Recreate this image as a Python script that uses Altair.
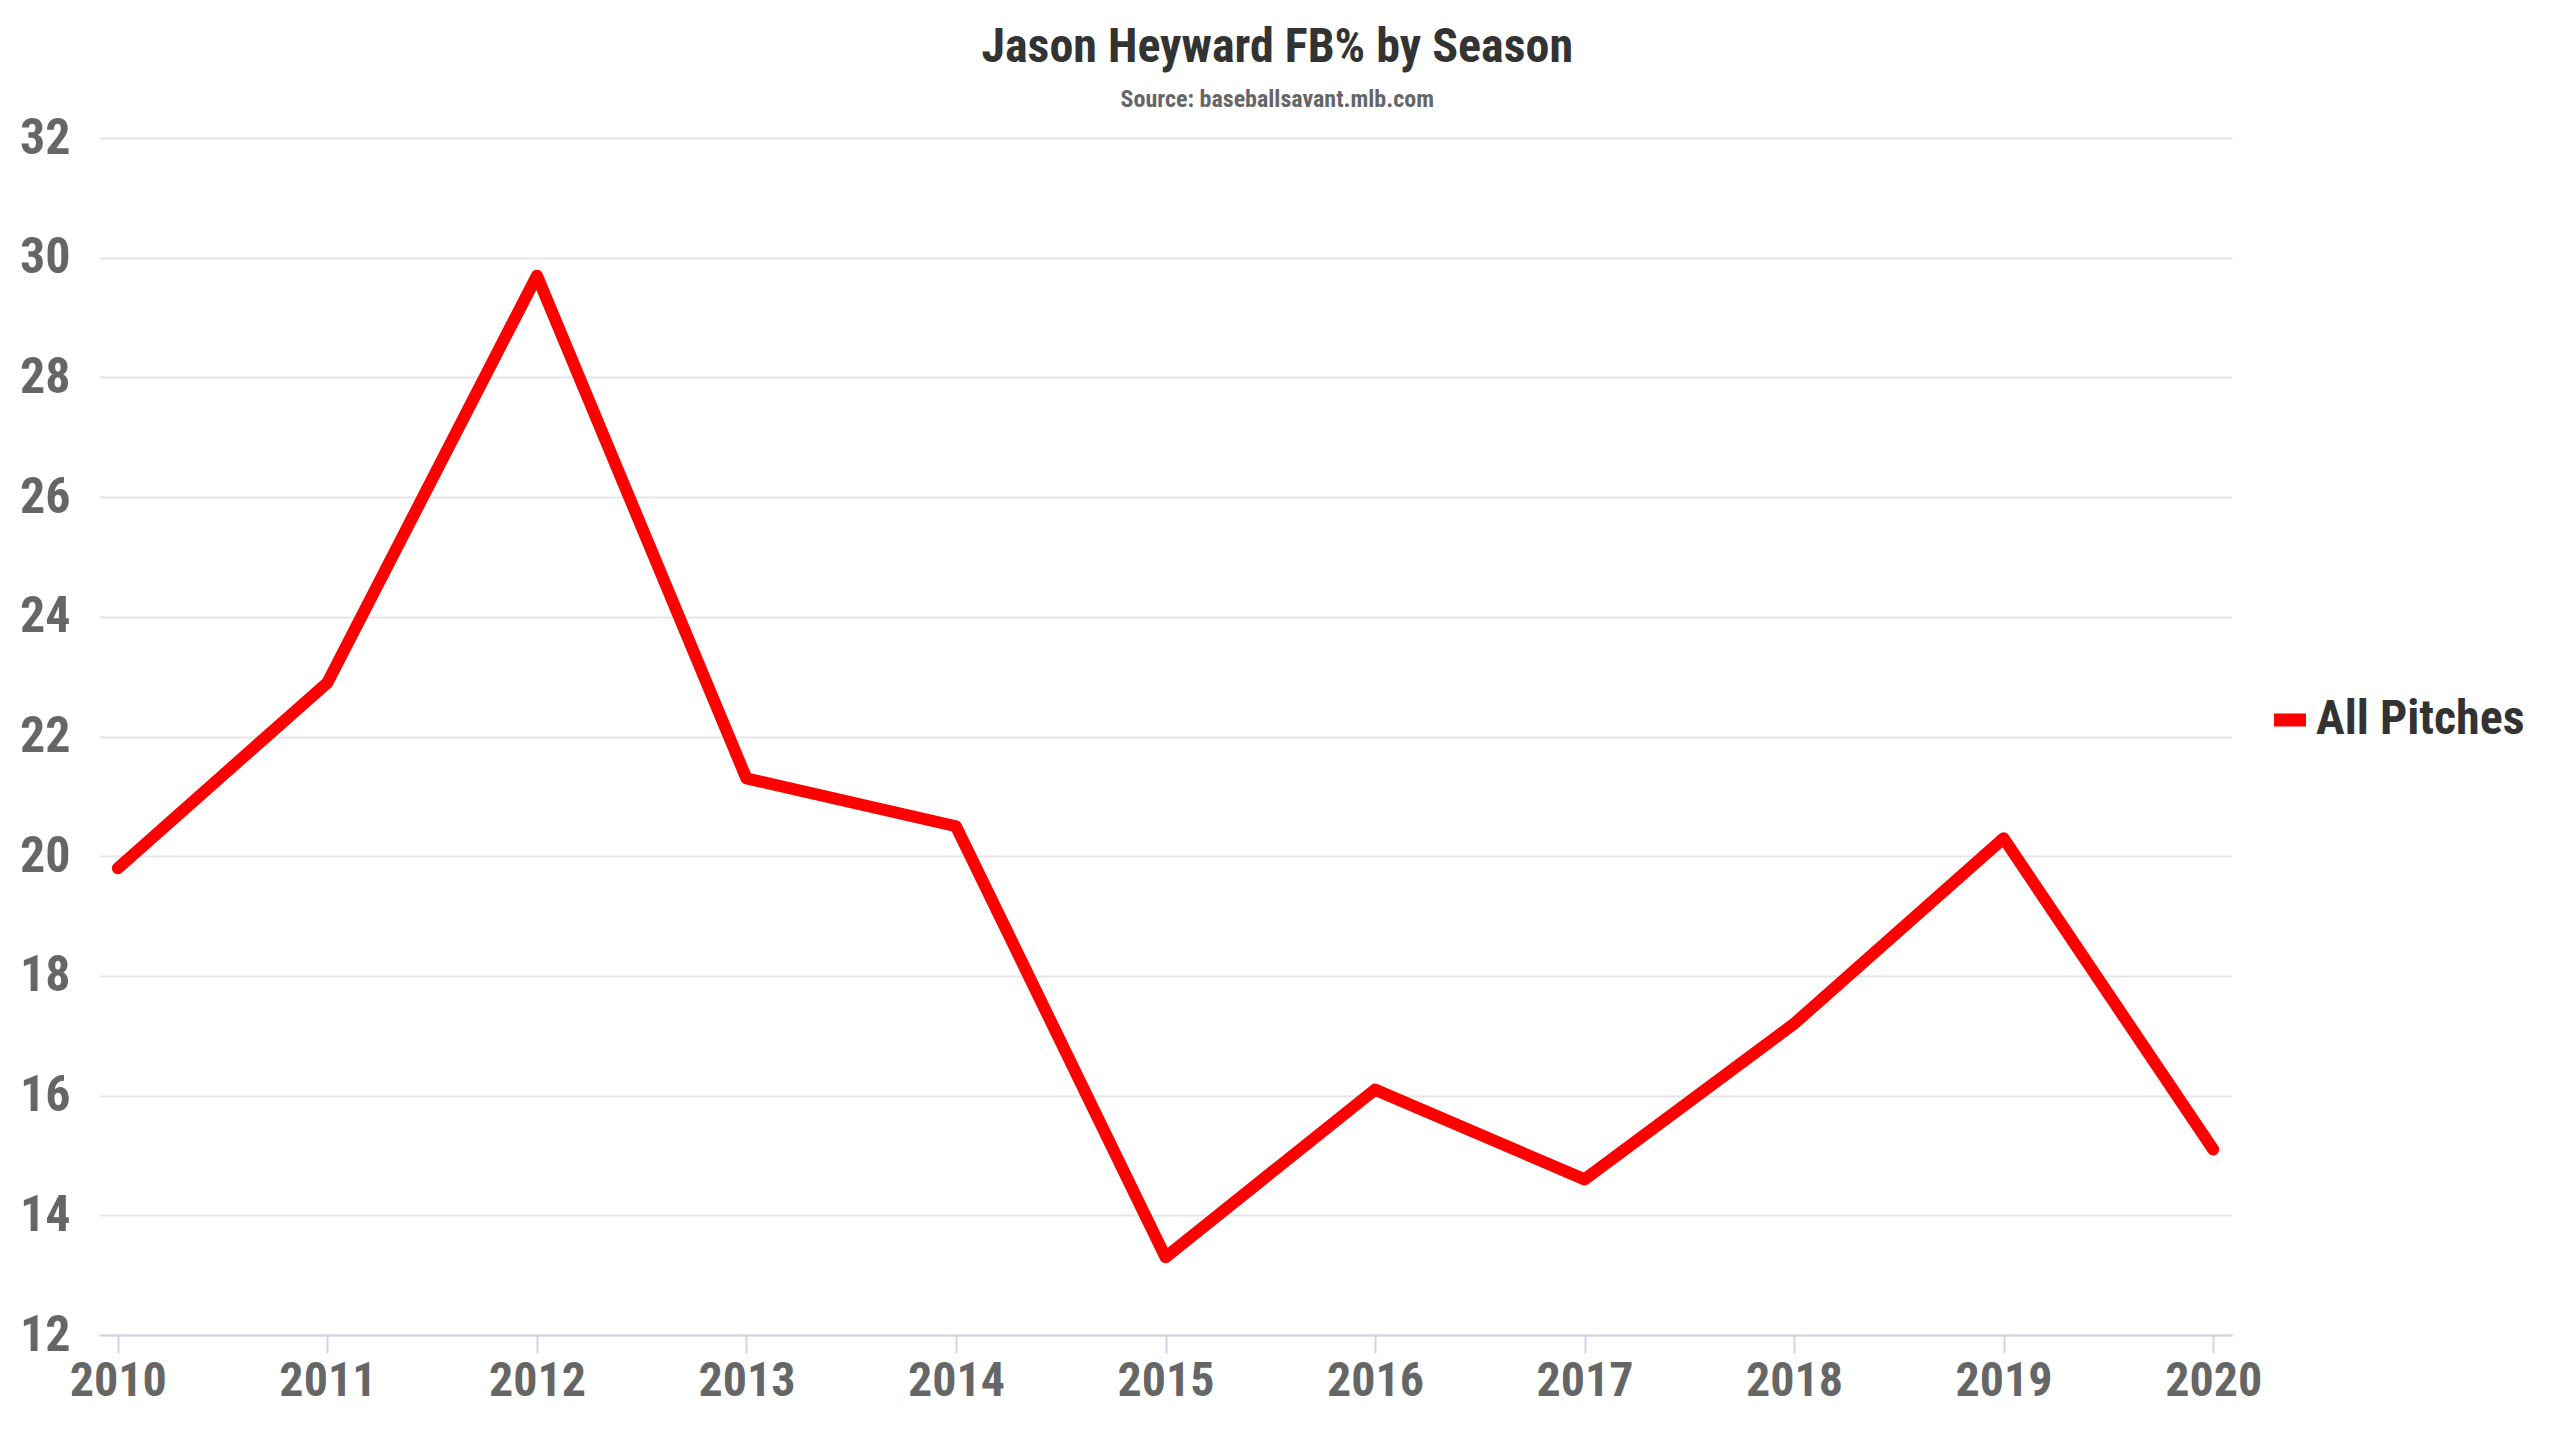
import altair as alt
import pandas as pd

years = [2010, 2011, 2012, 2013, 2014, 2015, 2016, 2017, 2018, 2019, 2020]
fb_pct = [19.8, 22.9, 29.7, 21.3, 20.5, 13.3, 16.1, 14.6, 17.2, 20.3, 15.1]
series = ["All Pitches"] * len(years)
y_ticks = [12, 14, 16, 18, 20, 22, 24, 26, 28, 30, 32]

df = pd.DataFrame({"Season": years, "FB%": fb_pct, "Series": series})

FONT = "'Roboto Condensed', 'Liberation Sans Narrow', 'DejaVu Sans Condensed', Roboto, sans-serif"

chart = (
    alt.Chart(df)
    .mark_line(strokeWidth=12, strokeCap="round", strokeJoin="round")
    .encode(
        x=alt.X(
            "Season:Q",
            scale=alt.Scale(domain=[2009.91, 2020.09], nice=False, zero=False),
            axis=alt.Axis(
                values=years, format="d", title=None, grid=False,
                domainColor="#ccd6eb", domainWidth=2, tickColor="#ccd6eb", tickWidth=2,
                tickSize=18, labelFontSize=48, labelFontWeight="bold", labelColor="#666666",
                labelFont=FONT, labelPadding=4,
            ),
        ),
        y=alt.Y(
            "FB%:Q",
            scale=alt.Scale(domain=[12, 32], nice=False, zero=False),
            axis=alt.Axis(
                values=y_ticks, title=None, domain=False, ticks=False,
                gridColor="#e6e6e6", gridWidth=2, labelFontSize=50,
                labelFontWeight="bold", labelColor="#666666", labelFont=FONT,
                labelPadding=29,
            ),
        ),
        color=alt.Color(
            "Series:N",
            scale=alt.Scale(domain=["All Pitches"], range=["#ff0000"]),
            legend=alt.Legend(
                title=None, orient="none", legendX=2167, legendY=558,
                symbolType="stroke", symbolStrokeWidth=13, symbolSize=1024,
                labelFontSize=48, labelFontWeight="bold", labelColor="#333333",
                labelFont=FONT, labelOffset=2, labelLimit=0,
            ),
        ),
    )
    .properties(
        width=2133,
        height=1197,
        padding={"left": 91, "top": 130, "right": 300, "bottom": 85},
        autosize=alt.AutoSizeParams(type="none"),
        title=alt.TitleParams(
            text="Jason Heyward FB% by Season",
            subtitle="Source: baseballsavant.mlb.com",
            anchor="middle", frame="bounds", dx=5,
            font=FONT, fontSize=48, fontWeight="bold", color="#333333",
            subtitleFont=FONT, subtitleFontSize=24, subtitleFontWeight="bold",
            subtitleColor="#666666", subtitlePadding=16, offset=1,
        ),
    )
    .configure_view(stroke=None)
)

chart.save("out.html", embed_options={"renderer": "svg", "actions": False})
